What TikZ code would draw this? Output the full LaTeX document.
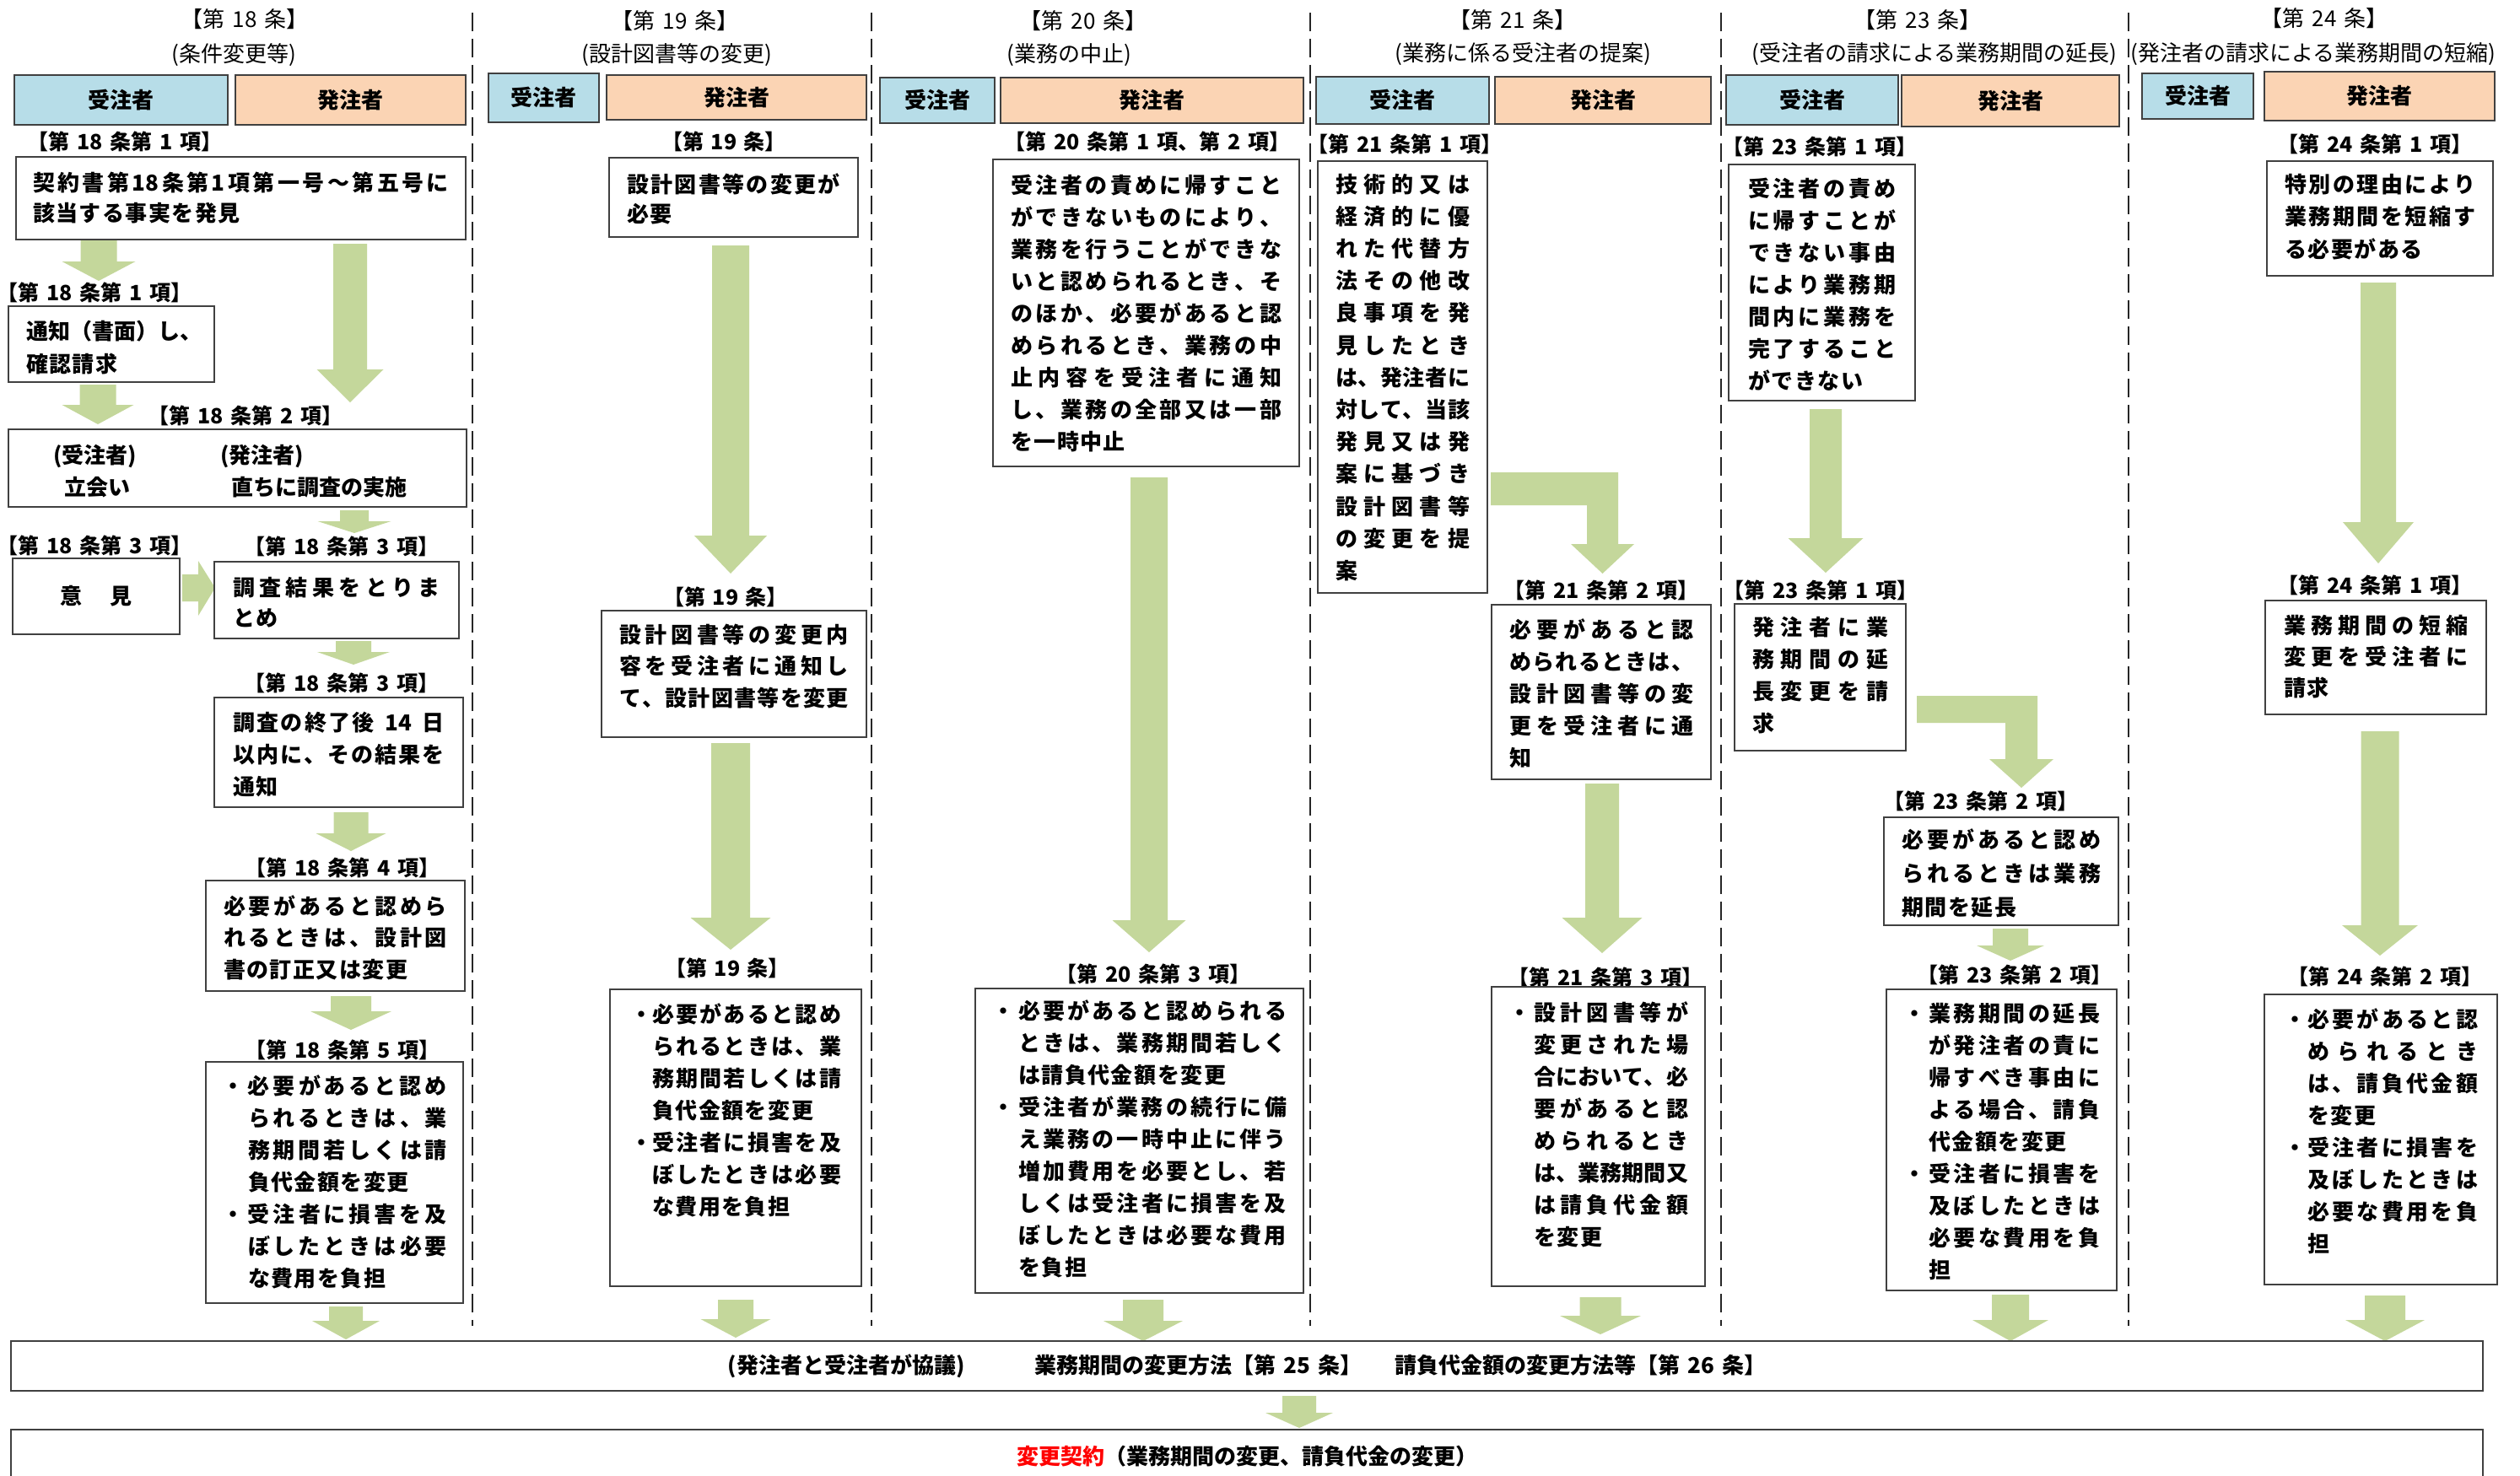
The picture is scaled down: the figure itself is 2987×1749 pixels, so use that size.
\documentclass[tikz,border=0pt]{standalone}
\usepackage{fontspec}
\setmainfont{Noto Sans CJK JP}
\usetikzlibrary{calc}
\definecolor{arrowc}{HTML}{C4D79B}
\definecolor{jcol}{HTML}{B7DDE8}
\definecolor{hcol}{HTML}{FBD4B4}
\definecolor{lc}{HTML}{404040}
\makeatletter
\def\jspr#1{\jspr@a#1\relax}
\def\jspr@a#1{#1\jspr@b}
\def\jspr@b#1{\ifx\relax#1\else\hfil#1\expandafter\jspr@b\fi}
\def\jsprk#1{\jsprk@a#1\relax}
\def\jsprk@a#1{#1\jsprk@b}
\def\jsprk@b#1{\ifx\relax#1\else\kern1.5pt#1\expandafter\jsprk@b\fi}
\makeatother
\newlength\jbw
\newcommand\gp{\hspace{0.35em}}
\newcommand\xJ[1]{\makebox[\linewidth][s]{\jspr{#1}}\par}
\newcommand\xL[1]{\jsprk{#1}\par}
\newcommand\xB[1]{\makebox[\jbw][l]{・}\makebox[\dimexpr\linewidth-\jbw\relax][s]{\jspr{#1}}\par}
\newcommand\xI[1]{\hspace*{\jbw}\makebox[\dimexpr\linewidth-\jbw\relax][s]{\jspr{#1}}\par}
\newcommand\xN[1]{\hspace*{\jbw}\jsprk{#1}\par}
\newcommand\setbl[1]{\setlength\baselineskip{#1pt}}
\newcommand\setbw[1]{\setlength\jbw{#1pt}}
% box with text: name, left, top, right, bottom, textleft, first baseline, content
\newcommand\mybox[8]{%
 \pgfmathsetmacro\bxp{#6-#2}%
 \pgfmathsetmacro\bxw{#4-#2-2*(#6-#2)}%
 \pgfmathsetmacro\bxh{#7-#3}%
 \pgfmathsetmacro\bxd{#5-#7}%
 \node[box, inner xsep=\bxp pt, text width=\bxw pt, text height=\bxh pt, text depth=\bxd pt] (#1) at (#2,#3) {#8};}
% plain rectangle with centred text: name, style, left, top, right, bottom, text
\newcommand\myrect[7]{%
 \pgfmathsetmacro\rbw{#5-#3}%
 \pgfmathsetmacro\rbh{#6-#4}%
 \node[#2, minimum width=\rbw pt, minimum height=\rbh pt, inner sep=0pt, outer sep=0pt, anchor=north west] (#1) at (#3,#4) {#7};}
% vertical block arrow: x, ystart, ytip, shaft width, head width, head length
\newcommand\myarrow[6]{%
 \fill[arrowc] ({#1-#4/2},#2) -- ({#1+#4/2},#2) -- ({#1+#4/2},{#3-#6}) -- ({#1+#5/2},{#3-#6}) -- (#1,#3) -- ({#1-#5/2},{#3-#6}) -- ({#1-#4/2},{#3-#6}) -- cycle;}
\tikzset{
 box/.style={draw=lc, line width=1.5pt, fill=white, inner ysep=0pt, outer sep=0pt, anchor=north west, align=left, font=\bfseries\fontsize{26}{38}\selectfont},
 hdrJ/.style={draw=lc, line width=1.5pt, fill=jcol, font=\bfseries\fontsize{26}{26}\selectfont},
 hdrH/.style={draw=lc, line width=1.5pt, fill=hcol, font=\bfseries\fontsize{26}{26}\selectfont},
 plain/.style={draw=lc, line width=1.5pt, fill=white, font=\bfseries\fontsize{26}{26}\selectfont},
 lab/.style={inner sep=0pt, font=\bfseries\fontsize{25}{25}\selectfont},
 ttl/.style={inner sep=0pt, font=\fontsize{26}{26}\selectfont},
 tx/.style={inner sep=0pt, anchor=base west, font=\bfseries\fontsize{26}{26}\selectfont},
 divider/.style={draw=black!85, line width=2.5pt, dash pattern=on 22pt off 9pt}
}
\begin{document}
\begin{tikzpicture}[x=1pt,y=-1pt]
\fill[white] (0,0) rectangle (2987,1749);
\useasboundingbox (0,0) rectangle (2987,1749);
% dividers
\foreach \dx/\nm in {560/d1,1033/d2,1553/d3,2040/d4,2523/d5}{
 \coordinate (\nm a) at (\dx,15); \coordinate (\nm b) at (\dx,1572);
 \draw[divider] (\nm a) -- (\nm b);}
% ---------- titles ----------
\node[ttl] (T18a) at (290,23) {【第\gp 18\gp 条】};
\node[ttl] (T18b) at (277,65) {(条件変更等)};
\node[ttl] (T19a) at (800,25) {【第\gp 19\gp 条】};
\node[ttl] (T19b) at (802,65) {(設計図書等の変更)};
\node[ttl] (T20a) at (1284,25) {【第\gp 20\gp 条】};
\node[ttl] (T20b) at (1267,65) {(業務の中止)};
\node[ttl] (T21a) at (1793,24) {【第\gp 21\gp 条】};
\node[ttl] (T21b) at (1805,64) {(業務に係る受注者の提案)};
\node[ttl] (T23a) at (2273,24) {【第\gp 23\gp 条】};
\node[ttl] (T23b) at (2293,64) {(受注者の請求による業務期間の延長)};
\node[ttl] (T24a) at (2755,22) {【第\gp 24\gp 条】};
\node[ttl] (T24b) at (2742,64) {(発注者の請求による業務期間の短縮)};
% ---------- headers ----------
\myrect{H18j}{hdrJ}{17}{89}{270}{148}{受注者}
\myrect{H18h}{hdrH}{279}{89}{552}{148}{発注者}
\myrect{H19j}{hdrJ}{579}{87}{710}{145}{受注者}
\myrect{H19h}{hdrH}{719}{89}{1027}{142}{発注者}
\myrect{H20j}{hdrJ}{1043}{92}{1179}{146}{受注者}
\myrect{H20h}{hdrH}{1186}{92}{1545}{146}{発注者}
\myrect{H21j}{hdrJ}{1560}{91}{1765}{147}{受注者}
\myrect{H21h}{hdrH}{1772}{91}{2028}{147}{発注者}
\myrect{H23j}{hdrJ}{2046}{89}{2250}{148}{受注者}
\myrect{H23h}{hdrH}{2254}{89}{2512}{150}{発注者}
\myrect{H24j}{hdrJ}{2539}{87}{2671}{141}{受注者}
\myrect{H24h}{hdrH}{2684}{85}{2957}{143}{発注者}
% ---------- column 18 ----------
\node[lab] (L18a) at (148,168) {【第\gp 18\gp 条第\gp 1\gp 項】};
\mybox{B18a}{19}{186}{552}{284}{39}{226}{\setbl{36}\xJ{契約書第{18}条第1項第一号～第五号に}\xL{該当する事実を発見}}
\myarrow{117}{285}{333}{43}{87}{23}
\myarrow{415}{289}{477}{40}{79}{39}
\node[lab] (L18b) at (112,347) {【第\gp 18\gp 条第\gp 1\gp 項】};
\mybox{B18b}{10}{363}{254}{453}{31}{402}{\setbl{39}\xJ{通知（書面）し、}\xL{確認請求}}
\myarrow{116}{456}{503}{43}{85}{23}
\node[lab] (L18c) at (291,493) {【第\gp 18\gp 条第\gp 2\gp 項】};
\myrect{B18c}{plain}{10}{509}{553}{601}{}
\node[tx] (t18c1) at (63,549) {(受注者)};
\node[tx] (t18c2) at (76,587) {立会い};
\node[tx] (t18c3) at (261,549) {(発注者)};
\node[tx] (t18c4) at (274,587) {直ちに調査の実施};
\myarrow{420}{605}{632}{34}{87}{14}
\node[lab] (L18d) at (112,647) {【第\gp 18\gp 条第\gp 3\gp 項】};
\node[lab] (L18e) at (405,648) {【第\gp 18\gp 条第\gp 3\gp 項】};
\myrect{B18d}{plain}{15}{662}{213}{752}{意\hspace{1.25em}見}
\fill[arrowc] (216,681) -- (235,681) -- (235,665) -- (255,697) -- (235,730) -- (235,713) -- (216,713) -- cycle;
\mybox{B18e}{254}{666}{544}{757}{276}{706}{\setbl{36}\xJ{調査結果をとりま}\xL{とめ}}
\myarrow{419}{760}{788}{42}{86}{15}
\node[lab] (L18f) at (405,810) {【第\gp 18\gp 条第\gp 3\gp 項】};
\mybox{B18f}{254}{827}{549}{957}{276}{866}{\xJ{調査の終了後{\hspace{0.4em}14\hspace{0.4em}}日}\xJ{以内に、その結果を}\xL{通知}}
\myarrow{416}{963}{1009}{41}{83}{21}
\node[lab] (L18g) at (406,1029) {【第\gp 18\gp 条第\gp 4\gp 項】};
\mybox{B18g}{244}{1044}{551}{1175}{265}{1084}{\setbl{37.5}\xJ{必要があると認めら}\xJ{れるときは、設計図}\xL{書の訂正又は変更}}
\myarrow{416}{1181}{1221}{48}{96}{22}
\node[lab] (L18h) at (406,1245) {【第\gp 18\gp 条第\gp 5\gp 項】};
\mybox{B18h}{244}{1259}{549}{1545}{263}{1297}{\setbw{31}\xB{必要があると認め}\xI{られるときは、業}\xI{務期間若しくは請}\xN{負代金額を変更}\xB{受注者に損害を及}\xI{ぼしたときは必要}\xN{な費用を負担}}
\myarrow{410}{1549}{1588}{40}{80}{22}
% ---------- column 19 ----------
\node[lab] (L19a) at (858,168) {【第\gp 19\gp 条】};
\mybox{B19a}{722}{187}{1017}{281}{743}{228}{\setbl{35}\xJ{設計図書等の変更が}\xL{必要}}
\myarrow{866}{291}{680}{44}{86}{45}
\node[lab] (L19b) at (860,708) {【第\gp 19\gp 条】};
\mybox{B19b}{713}{724}{1027}{874}{734}{762}{\setbl{37.5}\xJ{設計図書等の変更内}\xJ{容を受注者に通知し}\xJ{て、設計図書等を変更}}
\myarrow{866}{881}{1126}{46}{95}{38}
\node[lab] (L19c) at (862,1148) {【第\gp 19\gp 条】};
\mybox{B19c}{723}{1173}{1021}{1525}{747}{1212}{\setbw{26}\xB{必要があると認め}\xI{られるときは、業}\xI{務期間若しくは請}\xN{負代金額を変更}\xB{受注者に損害を及}\xI{ぼしたときは必要}\xN{な費用を負担}}
\myarrow{872}{1541}{1586}{42}{83}{22}
% ---------- column 20 ----------
\node[lab] (L20a) at (1360,168) {【第\gp 20\gp 条第\gp 1\gp 項、第\gp 2\gp 項】};
\mybox{B20a}{1177}{189}{1540}{553}{1198}{229}{\xJ{受注者の責めに帰すこと}\xJ{ができないものにより、}\xJ{業務を行うことができな}\xJ{いと認められるとき、そ}\xJ{のほか、必要があると認}\xJ{められるとき、業務の中}\xJ{止内容を受注者に通知}\xJ{し、業務の全部又は一部}\xL{を一時中止}}
\myarrow{1362}{566}{1129}{44}{87}{38}
\node[lab] (L20b) at (1367,1155) {【第\gp 20\gp 条第\gp 3\gp 項】};
\mybox{B20b}{1156}{1172}{1545}{1533}{1176}{1208}{\setbw{31}\xB{必要があると認められる}\xI{ときは、業務期間若しく}\xN{は請負代金額を変更}\xB{受注者が業務の続行に備}\xI{え業務の一時中止に伴う}\xI{増加費用を必要とし、若}\xI{しくは受注者に損害を及}\xI{ぼしたときは必要な費用}\xN{を負担}}
\myarrow{1355}{1541}{1590}{48}{94}{24}
% ---------- column 21 ----------
\node[lab] (L21a) at (1665,171) {【第\gp 21\gp 条第\gp 1\gp 項】};
\mybox{B21a}{1562}{191}{1763}{703}{1583}{228}{\setbl{38.2}\xJ{技術的又は}\xJ{経済的に優}\xJ{れた代替方}\xJ{法その他改}\xJ{良事項を発}\xJ{見したとき}\xJ{は、発注者に}\xJ{対して、当該}\xJ{発見又は発}\xJ{案に基づき}\xJ{設計図書等}\xJ{の変更を提}\xL{案}}
\fill[arrowc] (1767,560) -- (1918,560) -- (1918,645) -- (1937,645) -- (1899.5,680) -- (1862,645) -- (1881,645) -- (1881,599) -- (1767,599) -- cycle;
\node[lab] (L21b) at (1898,700) {【第\gp 21\gp 条第\gp 2\gp 項】};
\mybox{B21b}{1768}{717}{2028}{924}{1789}{756}{\xJ{必要があると認}\xJ{められるときは、}\xJ{設計図書等の変}\xJ{更を受注者に通}\xL{知}}
\myarrow{1899}{929}{1130}{40}{95}{42}
\node[lab] (L21c) at (1903,1159) {【第\gp 21\gp 条第\gp 3\gp 項】};
\mybox{B21c}{1768}{1170}{2021}{1525}{1788}{1210}{\setbw{30}\xB{設計図書等が}\xI{変更された場}\xI{合において、必}\xI{要があると認}\xI{められるとき}\xI{は、業務期間又}\xI{は請負代金額}\xN{を変更}}
\myarrow{1897}{1538}{1582}{49}{96}{22}
% ---------- column 23 ----------
\node[lab] (L23a) at (2157,174) {【第\gp 23\gp 条第\gp 1\gp 項】};
\mybox{B23a}{2049}{195}{2270}{475}{2072}{233}{\xJ{受注者の責め}\xJ{に帰すことが}\xJ{できない事由}\xJ{により業務期}\xJ{間内に業務を}\xJ{完了すること}\xL{ができない}}
\myarrow{2164}{485}{679}{38}{89}{41}
\node[lab] (L23b) at (2158,700) {【第\gp 23\gp 条第\gp 1\gp 項】};
\mybox{B23b}{2056}{716}{2259}{890}{2077}{753}{\xJ{発注者に業}\xJ{務期間の延}\xJ{長変更を請}\xL{求}}
\fill[arrowc] (2272,825) -- (2415,825) -- (2415,900) -- (2434,900) -- (2396,934) -- (2358,900) -- (2377,900) -- (2377,857) -- (2272,857) -- cycle;
\node[lab] (L23c) at (2348,950) {【第\gp 23\gp 条第\gp 2\gp 項】};
\mybox{B23c}{2233}{969}{2511}{1097}{2254}{1005}{\setbl{40}\xJ{必要があると認め}\xJ{られるときは業務}\xL{期間を延長}}
\myarrow{2383}{1101}{1139}{42}{80}{18}
\node[lab] (L23d) at (2388,1156) {【第\gp 23\gp 条第\gp 2\gp 項】};
\mybox{B23d}{2236}{1173}{2509}{1530}{2256}{1211}{\setbw{30}\xB{業務期間の延長}\xI{が発注者の責に}\xI{帰すべき事由に}\xI{よる場合、請負}\xN{代金額を変更}\xB{受注者に損害を}\xI{及ぼしたときは}\xI{必要な費用を負}\xN{担}}
\myarrow{2383}{1535}{1590}{44}{90}{25}
% ---------- column 24 ----------
\node[lab] (L24a) at (2815,171) {【第\gp 24\gp 条第\gp 1\gp 項】};
\mybox{B24a}{2687}{191}{2955}{327}{2708}{228}{\setbl{38.5}\xJ{特別の理由により}\xJ{業務期間を短縮す}\xL{る必要がある}}
\myarrow{2819}{335}{668}{42}{84}{49}
\node[lab] (L24b) at (2815,694) {【第\gp 24\gp 条第\gp 1\gp 項】};
\mybox{B24b}{2685}{712}{2947}{847}{2707}{751}{\setbl{37}\xJ{業務期間の短縮}\xJ{変更を受注者に}\xL{請求}}
\myarrow{2821}{867}{1133}{45}{90}{36}
\node[lab] (L24c) at (2827,1158) {【第\gp 24\gp 条第\gp 2\gp 項】};
\mybox{B24c}{2684}{1179}{2960}{1523}{2707}{1218}{\setbw{28}\xB{必要があると認}\xI{められるとき}\xI{は、請負代金額}\xN{を変更}\xB{受注者に損害を}\xI{及ぼしたときは}\xI{必要な費用を負}\xN{担}}
\myarrow{2827}{1536}{1590}{48}{94}{25}
% ---------- bottom ----------
\myrect{BB1}{plain}{13}{1590}{2943}{1649}{(発注者と受注者が協議)\hspace{3.2em}業務期間の変更方法【第\gp 25\gp 条】\hspace{1.5em}請負代金額の変更方法等【第\gp 26\gp 条】\hspace{1.6em}}
\myarrow{1540}{1655}{1693}{40}{80}{18}
\myrect{BB2}{plain}{13}{1695}{2943}{1758}{\raisebox{3pt}{\textcolor{red}{変更契約}（業務期間の変更、請負代金の変更）}}
\end{tikzpicture}
\end{document}
